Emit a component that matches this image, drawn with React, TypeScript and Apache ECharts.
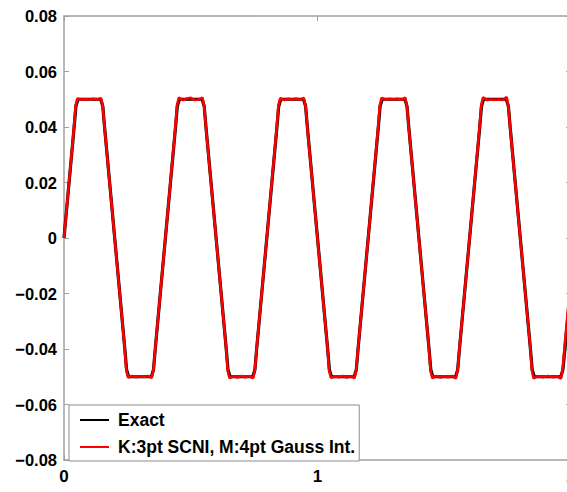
import React, { useEffect, useRef } from "react";
import * as echarts from "echarts";

const FONT = "'Liberation Sans', Arial, Helvetica, sans-serif";

const xTicks = [0, 1, 2];
const yTickValues = [-0.08, -0.06, -0.04, -0.02, 0, 0.02, 0.04, 0.06, 0.08];
const seriesNames = ["Exact", "K:3pt SCNI, M:4pt Gauss Int."];

const exactX = [
  0, 0.04, 0.047, 0.055, 0.145, 0.153, 0.16, 0.24, 0.247, 0.255, 0.345, 0.353, 0.36,
  0.4, 0.44, 0.447, 0.455, 0.545, 0.553, 0.56, 0.64, 0.647, 0.655, 0.745, 0.753, 0.76,
  0.8, 0.84, 0.847, 0.855, 0.945, 0.953, 0.96, 1.04, 1.047, 1.055, 1.145, 1.153, 1.16,
  1.2, 1.24, 1.247, 1.255, 1.345, 1.353, 1.36, 1.44, 1.447, 1.455, 1.545, 1.553, 1.56,
  1.6, 1.64, 1.647, 1.655, 1.745, 1.753, 1.76, 1.84, 1.847, 1.855, 1.96, 1.968, 1.976,
  2.0,
];
const exactY = [
  0, 0.04, 0.0475, 0.05, 0.05, 0.0475, 0.04, -0.04, -0.0475, -0.05, -0.05, -0.0475, -0.04,
  0, 0.04, 0.0475, 0.05, 0.05, 0.0475, 0.04, -0.04, -0.0475, -0.05, -0.05, -0.0475, -0.04,
  0, 0.04, 0.0475, 0.05, 0.05, 0.0475, 0.04, -0.04, -0.0475, -0.05, -0.05, -0.0475, -0.04,
  0, 0.04, 0.0475, 0.05, 0.05, 0.0475, 0.04, -0.04, -0.0475, -0.05, -0.05, -0.0475, -0.04,
  0, 0.04, 0.0475, 0.05, 0.05, 0.0475, 0.04, -0.04, -0.0475, -0.05, -0.05, -0.0475, -0.04,
  -0.016,
];

const numX = [
  0, 0.038, 0.046, 0.053, 0.07, 0.085, 0.1, 0.115, 0.13, 0.146, 0.153, 0.161,
  0.239, 0.246, 0.253, 0.27, 0.285, 0.3, 0.315, 0.33, 0.346, 0.353, 0.361,
  0.4, 0.438, 0.446, 0.453, 0.47, 0.485, 0.5, 0.515, 0.53, 0.546, 0.553, 0.561,
  0.639, 0.646, 0.653, 0.67, 0.685, 0.7, 0.715, 0.73, 0.746, 0.753, 0.761,
  0.8, 0.838, 0.846, 0.853, 0.87, 0.885, 0.9, 0.915, 0.93, 0.946, 0.953, 0.961,
  1.039, 1.046, 1.053, 1.07, 1.085, 1.1, 1.115, 1.13, 1.146, 1.153, 1.161,
  1.2, 1.238, 1.246, 1.253, 1.27, 1.285, 1.3, 1.315, 1.33, 1.346, 1.353, 1.361,
  1.439, 1.446, 1.453, 1.47, 1.485, 1.5, 1.515, 1.53, 1.546, 1.553, 1.561,
  1.6, 1.638, 1.646, 1.653, 1.67, 1.685, 1.7, 1.715, 1.73, 1.746, 1.753, 1.761,
  1.839, 1.846, 1.853, 1.87, 1.89, 1.91, 1.93, 1.945, 1.96, 1.967, 1.975,
  2.0,
];
const numY = [
  0, 0.0385, 0.0478, 0.0503, 0.0498, 0.0501, 0.0498, 0.0502, 0.0499, 0.0504, 0.0474, 0.0388,
  -0.0392, -0.0478, -0.0503, -0.0497, -0.0502, -0.0498, -0.0501, -0.0497, -0.0504, -0.0474, -0.0388,
  0, 0.0386, 0.0479, 0.0506, 0.0497, 0.0503, 0.0505, 0.0497, 0.0499, 0.0506, 0.0474, 0.0387,
  -0.0391, -0.0479, -0.0505, -0.0498, -0.0503, -0.0497, -0.0502, -0.0498, -0.0505, -0.0475, -0.0387,
  0, 0.0386, 0.0478, 0.0504, 0.0497, 0.0502, 0.0498, 0.0503, 0.0498, 0.0505, 0.0474, 0.0387,
  -0.0391, -0.0478, -0.0504, -0.0498, -0.0502, -0.0497, -0.0503, -0.0498, -0.0505, -0.0474, -0.0388,
  0, 0.0386, 0.0479, 0.0505, 0.0498, 0.0502, 0.0499, 0.0502, 0.0498, 0.0506, 0.0474, 0.0387,
  -0.0391, -0.0479, -0.0505, -0.0497, -0.0503, -0.0498, -0.0502, -0.0497, -0.0506, -0.0475, -0.0387,
  0, 0.0386, 0.0479, 0.0507, 0.0497, 0.0499, 0.0498, 0.0499, 0.0497, 0.0508, 0.0474, 0.0387,
  -0.0391, -0.0479, -0.0506, -0.0498, -0.0502, -0.0497, -0.0502, -0.0498, -0.0507, -0.0475, -0.0388,
  -0.014,
];

const AXIS_COLOR = "#a0a0a0";

function fmtY(v: number): string {
  if (Math.abs(v) < 1e-9) return "0";
  return (v < 0 ? "\u2212" : "") + Math.abs(v).toFixed(2);
}

export default function App() {
  const ref = useRef<HTMLDivElement>(null);
  useEffect(() => {
    const chart = echarts.init(ref.current!, undefined, { renderer: "svg" });
    const exactData = exactX.map((x, i) => [x, exactY[i]]);
    const numData = numX.map((x, i) => [x, numY[i]]);
    const axisCommon = {
      axisLine: { show: true, onZero: false, lineStyle: { color: AXIS_COLOR, width: 1.5 } },
      axisTick: { show: true, inside: true, length: 5, lineStyle: { color: AXIS_COLOR, width: 1 } },
      splitLine: { show: false },
    };
    chart.setOption({
      animation: false,
      backgroundColor: "#ffffff",
      grid: { left: 64, top: 16, right: 29, bottom: 32, show: false },
      xAxis: [
        {
          type: "value",
          min: xTicks[0],
          max: xTicks[xTicks.length - 1],
          interval: 1,
          position: "bottom",
          ...axisCommon,
          axisLabel: {
            show: true,
            margin: 8,
            color: "#000",
            fontFamily: FONT,
            fontWeight: "bold",
            fontSize: 17,
          },
        },
        {
          type: "value",
          min: xTicks[0],
          max: xTicks[xTicks.length - 1],
          interval: 1,
          position: "top",
          ...axisCommon,
          axisLabel: { show: false },
        },
      ],
      yAxis: [
        {
          type: "value",
          min: yTickValues[0],
          max: yTickValues[yTickValues.length - 1],
          interval: 0.02,
          position: "left",
          ...axisCommon,
          axisLabel: {
            show: true,
            margin: 7,
            color: "#000",
            fontFamily: FONT,
            fontWeight: "bold",
            fontSize: 16.5,
            formatter: fmtY,
          },
        },
        {
          type: "value",
          min: yTickValues[0],
          max: yTickValues[yTickValues.length - 1],
          interval: 0.02,
          position: "right",
          ...axisCommon,
          axisLabel: { show: false },
        },
      ],
      legend: {
        left: 69,
        top: 405,
        orient: "vertical",
        padding: [6, 4, 5, 10],
        itemWidth: 29,
        itemHeight: 14,
        itemGap: 9,
        backgroundColor: "#ffffff",
        borderColor: "#8c8c8c",
        borderWidth: 1,
        z: 10,
        itemStyle: { opacity: 0 },
        textStyle: {
          fontFamily: FONT,
          fontWeight: "bold",
          fontSize: 17.5,
          color: "#000",
          padding: [0, 0, 0, 4],
        },
        data: seriesNames,
      },
      series: [
        {
          name: seriesNames[0],
          type: "line",
          data: exactData,
          symbol: "none",
          showSymbol: false,
          xAxisIndex: 0,
          yAxisIndex: 0,
          lineStyle: { color: "#000000", width: 3.2 },
          itemStyle: { color: "#000000" },
          z: 2,
        },
        {
          name: seriesNames[1],
          type: "line",
          data: numData,
          symbol: "none",
          showSymbol: false,
          xAxisIndex: 0,
          yAxisIndex: 0,
          lineStyle: { color: "#ff0000", width: 2.6 },
          itemStyle: { color: "#ff0000" },
          z: 3,
        },
      ],
    });
    return () => chart.dispose();
  }, []);
  return (
    <div
      style={{
        position: "fixed",
        left: 0,
        top: 0,
        width: 567,
        height: 492,
        overflow: "hidden",
        background: "#fff",
      }}
    >
      <div ref={ref} style={{ width: 600, height: 492 }} />
    </div>
  );
}
